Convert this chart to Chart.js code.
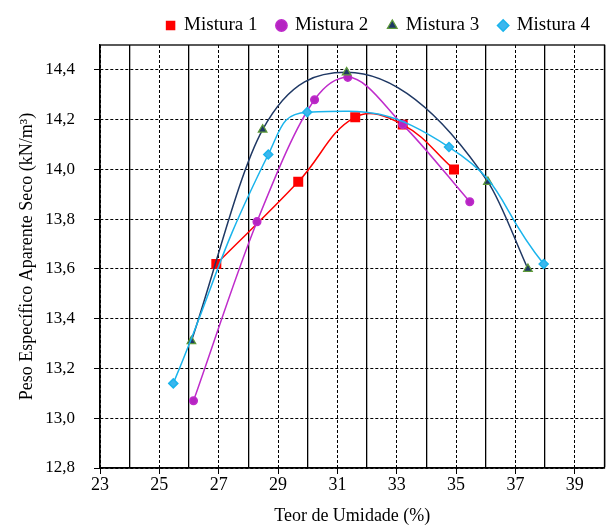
<!DOCTYPE html>
<html>
<head>
<meta charset="utf-8">
<script src="https://cdn.jsdelivr.net/npm/chart.js@4.4.1/dist/chart.umd.min.js"></script>
<style>
  body { margin: 0; background: #fff; }
</style>
</head>
<body>
<canvas id="myChart" width="612" height="527"></canvas>
<script>
// values
var mix1X = [26.92, 29.68, 31.60, 33.20, 34.93];
var mix1Y = [13.62, 13.95, 14.21, 14.18, 14.00];
var mix2X = [26.15, 28.29, 30.23, 31.35, 33.20, 35.46];
var mix2Y = [13.07, 13.79, 14.28, 14.37, 14.18, 13.87];
var mix3X = [26.08, 28.48, 31.31, 36.07, 37.42];
var mix3Y = [13.31, 14.16, 14.39, 13.95, 13.60];
var mix4X = [25.47, 28.67, 29.98, 34.76, 37.95];
var mix4Y = [13.14, 14.06, 14.23, 14.09, 13.62];

var seriesLabels = ['Mistura 1', 'Mistura 2', 'Mistura 3', 'Mistura 4'];
var xTicks = [23, 24, 25, 26, 27, 28, 29, 30, 31, 32, 33, 34, 35, 36, 37, 38, 39, 40];
var yTicks = [12.8, 13.0, 13.2, 13.4, 13.6, 13.8, 14.0, 14.2, 14.4];

var serif = "'Liberation Serif', 'Times New Roman', serif";

function pts(xs, ys) {
	return xs.map(function (x, i) { return {x: x, y: ys[i]}; });
}

function isMajorX(v) { return v % 2 === 1 && v < 40; }

// box around the plot area
var frame = {
	id: 'frame',
	beforeDatasetsDraw: function (chart) {
		var a = chart.chartArea, c = chart.ctx;
		c.save();
		c.strokeStyle = '#000';
		c.lineWidth = 1.3;
		c.setLineDash([]);
		c.strokeRect(a.left, a.top, a.right - a.left, a.bottom - a.top);
		c.restore();
	}
};

var ctx = document.getElementById('myChart');
var myChart = new Chart(ctx, {
	type: 'scatter',
	data: {
		datasets: [{
			label: seriesLabels[0],
			data: pts(mix1X, mix1Y),
			showLine: true,
			borderColor: '#ff0000',
			backgroundColor: '#ff0000',
			pointStyle: 'rect',
			pointRadius: 6,
			borderWidth: 1.5,
			tension: 0.4,
			order: 4
		}, {
			label: seriesLabels[1],
			data: pts(mix2X, mix2Y),
			showLine: true,
			borderColor: '#bf2ccb',
			backgroundColor: '#b524c2',
			pointStyle: 'circle',
			pointRadius: 3.8,
			borderWidth: 1.5,
			cubicInterpolationMode: 'monotone',
			order: 3
		}, {
			label: seriesLabels[2],
			data: pts(mix3X, mix3Y),
			showLine: true,
			borderColor: '#1f3864',
			backgroundColor: '#1f3864',
			pointBorderColor: '#5e9a3a',
			pointStyle: 'triangle',
			pointRadius: 5,
			pointBorderWidth: 1.2,
			borderWidth: 1.5,
			cubicInterpolationMode: 'monotone',
			order: 2
		}, {
			label: seriesLabels[3],
			data: pts(mix4X, mix4Y),
			showLine: true,
			borderColor: '#1ab4ec',
			backgroundColor: '#3cb6ee',
			pointStyle: 'rectRot',
			pointRadius: 4.5,
			borderWidth: 1.5,
			tension: 0.5,
			order: 1
		}]
	},
	options: {
		responsive: false,
		animation: false,
		layout: { padding: { top: -4, right: 2, left: 0, bottom: 0 } },
		plugins: {
			tooltip: { enabled: false },
			legend: {
				position: 'top',
				align: 'end',
				labels: {
					sort: function (a, b) { return a.datasetIndex - b.datasetIndex; },
					usePointStyle: true,
					boxWidth: 8,
					boxHeight: 8,
					padding: 20,
					color: '#000',
					font: { family: serif, size: 19 }
				}
			}
		},
		scales: {
			x: {
				type: 'linear',
				min: 23,
				max: 40,
				afterBuildTicks: function (s) { s.ticks = xTicks.map(function (v) { return {value: v}; }); },
				afterFit: function (s) {
					s.height = 59;
					s.paddingLeft = 0;
					s.paddingRight = 0;
				},
				ticks: {
					autoSkip: false,
					maxRotation: 0,
					padding: 0,
					color: '#000',
					font: { family: serif, size: 18 },
					callback: function (v) { return isMajorX(v) ? String(v) : ''; }
				},
				grid: {
					color: '#000',
					lineWidth: function (c) { return c.tick && isMajorX(c.tick.value) ? 1 : 1.3; },
					tickLength: 6,
					tickColor: function (c) { return c.tick && isMajorX(c.tick.value) ? '#000' : 'rgba(0,0,0,0)'; }
				},
				border: {
					color: '#000',
					width: 1.3,
					dash: function (c) { return c.type === 'tick' && isMajorX(c.tick.value) ? [3, 2] : []; }
				},
				title: {
					display: true,
					text: 'Teor de Umidade (%)',
					color: '#000',
					font: { family: serif, size: 18 },
					padding: { top: 2, bottom: 0 }
				}
			},
			y: {
				type: 'linear',
				min: 12.8,
				max: 14.5,
				afterBuildTicks: function (s) { s.ticks = yTicks.map(function (v) { return {value: v}; }); },
				afterFit: function (s) { s.width = 100; },
				ticks: {
					padding: 19,
					color: '#000',
					font: { family: serif, size: 17 },
					callback: function (v) { return v.toFixed(1).replace('.', ','); }
				},
				grid: {
					color: '#000',
					lineWidth: 1,
					tickLength: 6
				},
				border: {
					color: '#000',
					width: 1.3,
					dash: function (c) { return c.type === 'tick' ? [3, 2] : []; }
				},
				title: {
					display: true,
					text: 'Peso Específico Aparente Seco (kN/m³)',
					color: '#000',
					font: { family: serif, size: 18 },
					padding: { top: 16, bottom: 0 }
				}
			}
		}
	},
	plugins: [frame]
});
</script>
</body>
</html>
